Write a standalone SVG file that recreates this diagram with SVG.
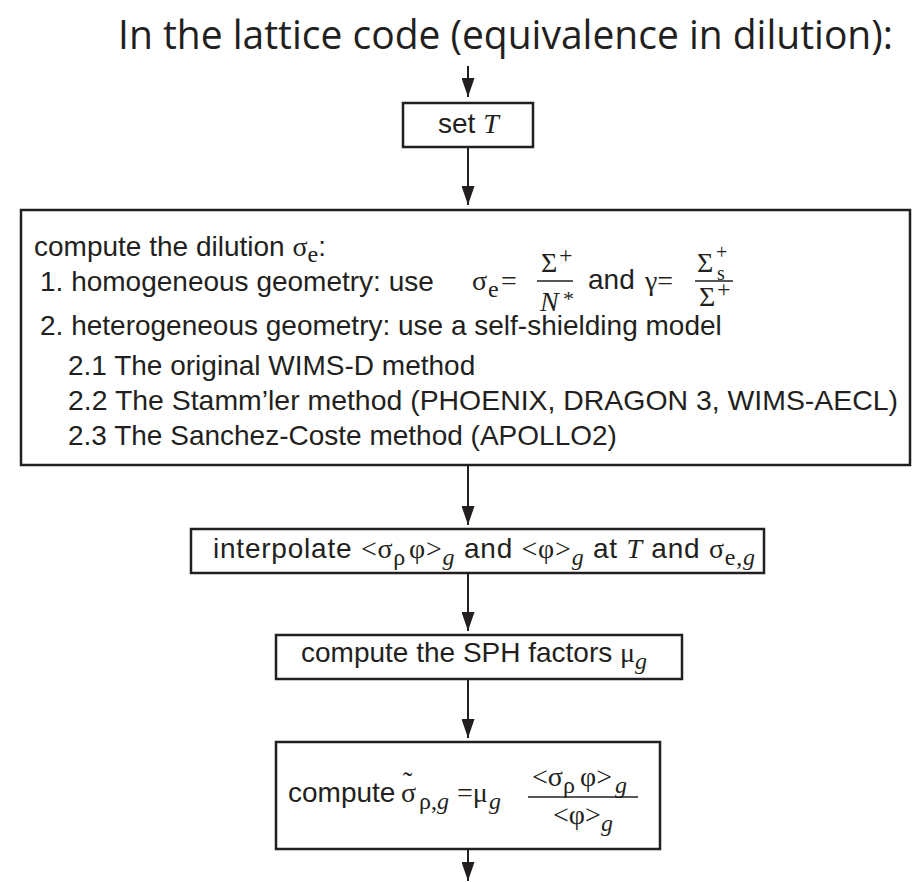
<svg xmlns="http://www.w3.org/2000/svg" width="915" height="882" viewBox="0 0 915 882">
<defs>
<style>
.box{fill:none;stroke:#231f20;stroke-width:2.5}
.ln{stroke:#231f20;stroke-width:2;fill:none}
.bar{stroke:#231f20;stroke-width:1.5}
.t{font-family:"Liberation Sans",Arial,sans-serif;font-size:28px;fill:#231f20}
.m{font-family:"Liberation Serif","Times New Roman",serif;font-size:28px;fill:#231f20}
.s{font-family:"Liberation Serif","Times New Roman",serif;font-size:24px;fill:#231f20}
.i{font-style:italic}
.title{font-family:"Open Sans","Noto Sans",sans-serif;font-size:40px;fill:#231f20}
</style>
<marker id="ah" viewBox="0 0 19 13" refX="19" refY="6.5" markerWidth="19" markerHeight="13" markerUnits="userSpaceOnUse" orient="auto">
<path d="M0,0 L19,6.5 L0,13 z" fill="#231f20"/>
</marker>
</defs>
<rect width="915" height="882" fill="#ffffff"/>

<text class="title" x="505.5" y="49" text-anchor="middle" textLength="775" lengthAdjust="spacingAndGlyphs">In the lattice code (equivalence in dilution):</text>

<g id="connectors">
<line class="ln" x1="468" y1="66" x2="468" y2="97" marker-end="url(#ah)"/>
<line class="ln" x1="468" y1="147" x2="468" y2="205" marker-end="url(#ah)"/>
<line class="ln" x1="468" y1="465" x2="468" y2="525" marker-end="url(#ah)"/>
<line class="ln" x1="468" y1="573" x2="468" y2="631" marker-end="url(#ah)"/>
<line class="ln" x1="468" y1="679" x2="468" y2="738" marker-end="url(#ah)"/>
<line class="ln" x1="468" y1="849" x2="468" y2="881" marker-end="url(#ah)"/>
</g>

<g id="setT">
<rect class="box" x="403" y="103" width="130" height="44"/>
<text class="t" x="438" y="133">set <tspan class="m i">T</tspan></text>
</g>

<g id="dilution">
<rect class="box" x="21" y="210" width="889" height="255"/>
<text class="t" x="34" y="256">compute the dilution <tspan class="m">σ</tspan><tspan class="s" dy="6">e</tspan><tspan dy="-6">:</tspan></text>
<text class="t" x="40" y="291">1. homogeneous geometry: use</text>
<text class="m" y="290"><tspan x="472">σ</tspan><tspan class="s" x="488" y="297">e</tspan><tspan x="501" y="290">=</tspan><tspan x="541" y="272">Σ</tspan><tspan class="s" x="559" y="263">+</tspan><tspan class="i" x="540" y="311">N</tspan><tspan x="563" y="306" style="font-size:22px">*</tspan></text>
<line class="bar" x1="537" y1="281" x2="573" y2="281"/>
<text class="t" x="588" y="289">and</text>
<text class="m" y="290"><tspan x="645">γ=</tspan><tspan x="697" y="272">Σ</tspan><tspan class="s" x="716" y="259" style="font-size:20px">+</tspan><tspan class="s" x="717" y="280" style="font-size:20px">s</tspan><tspan x="699" y="306">Σ</tspan><tspan class="s" x="717" y="297">+</tspan></text>
<line class="bar" x1="695" y1="281" x2="733" y2="281"/>
<text class="t" x="40" y="335">2. heterogeneous geometry: use a self-shielding model</text>
<text class="t" x="68" y="375">2.1 The original WIMS-D method</text>
<text class="t" x="68" y="410" textLength="830" lengthAdjust="spacingAndGlyphs">2.2 The Stamm’ler method (PHOENIX, DRAGON 3, WIMS-AECL)</text>
<text class="t" x="68" y="445">2.3 The Sanchez-Coste method (APOLLO2)</text>
</g>

<g id="interpolate">
<rect class="box" x="191" y="529" width="573" height="44"/>
<text class="t" x="213" y="558" textLength="542" lengthAdjust="spacing">interpolate <tspan class="m">&lt;σ</tspan><tspan class="s" dy="7">ρ</tspan><tspan class="m" dy="-7" dx="3">φ&gt;</tspan><tspan class="s i" dy="7">g</tspan><tspan dy="-7"> and </tspan><tspan class="m">&lt;φ&gt;</tspan><tspan class="s i" dy="7">g</tspan><tspan dy="-7"> at </tspan><tspan class="m i">T</tspan><tspan> and </tspan><tspan class="m">σ</tspan><tspan class="s" dy="7">e,</tspan><tspan class="s i">g</tspan></text>
</g>

<g id="sph">
<rect class="box" x="276" y="635" width="406" height="44"/>
<text class="t" x="301" y="662">compute the SPH factors <tspan class="m">μ</tspan><tspan class="s i" dy="7">g</tspan></text>
</g>

<g id="final">
<rect class="box" x="276" y="742" width="384" height="107"/>
<text class="t" y="802"><tspan x="288">compute</tspan><tspan class="m" x="401">σ</tspan><tspan class="m" x="403" y="791">˜</tspan><tspan class="s" x="419" y="809">ρ,<tspan class="i">g</tspan></tspan><tspan class="m" x="457" y="802">=μ</tspan><tspan class="s i" x="489" y="809">g</tspan></text>
<line class="bar" x1="528" y1="797" x2="638" y2="797"/>
<text class="m" y="786"><tspan x="532">&lt;σ</tspan><tspan class="s" x="563" y="793">ρ</tspan><tspan x="580" y="786">φ&gt;</tspan><tspan class="s i" x="615" y="793">g</tspan><tspan x="553" y="824">&lt;φ&gt;</tspan><tspan class="s i" x="601" y="831">g</tspan></text>
</g>
</svg>
